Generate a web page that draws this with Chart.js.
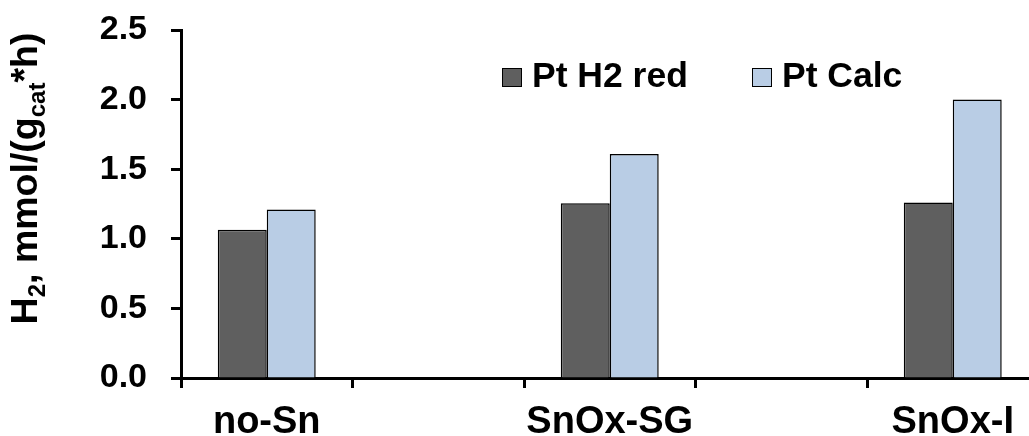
<!DOCTYPE html>
<html><head><meta charset="utf-8">
<script src="https://cdn.jsdelivr.net/npm/chart.js@4"></script>
<style>
html,body{margin:0;padding:0;background:#fff;overflow:hidden;width:1029px;height:436px}
#wrap{position:relative;width:1230px;height:436px}
</style>
</head><body><div id="wrap"><canvas id="c"></canvas></div>
<script>
// ---- data ----
const categories = ['no-Sn', 'SnOx-SG', 'SnOx-I'];
const seriesNames = ['Pt H2 red', 'Pt Calc'];
const ptH2Red = [1.065, 1.255, 1.26];
const ptCalc = [1.21, 1.61, 2.0];
const yTicks = [0.0, 0.5, 1.0, 1.5, 2.0, 2.5];

// each category is followed by an empty slot of equal width
const labels = [];
const d1 = [], d2 = [];
categories.forEach((c, i) => {
  labels.push(c, '');
  d1.push(ptH2Red[i], null);
  d2.push(ptCalc[i], null);
});

const FONT = '"Liberation Sans", Arial, sans-serif';

const overlay = {
  id: 'overlay',
  afterDraw(chart) {
    const ctx = chart.ctx;
    ctx.save();
    // legend (drawn inside plot area)
    const legendX = [502, 752];
    const legendY = 77.5;
    ctx.font = 'bold 35.5px ' + FONT;
    ctx.textBaseline = 'middle';
    ctx.textAlign = 'left';
    chart.data.datasets.forEach((ds, i) => {
      const x = legendX[i];
      ctx.fillStyle = ds.backgroundColor;
      ctx.fillRect(x, legendY - 9.5, 20, 19);
      ctx.strokeStyle = '#000';
      ctx.lineWidth = 1;
      ctx.strokeRect(x + 0.5, legendY - 9, 19, 18);
      ctx.fillStyle = '#000';
      ctx.fillText(ds.label, x + 30, legendY);
    });
    // y axis title with subscripts
    const F = 37.5, S = 24;
    const parts = [
      ['H', F, 0], ['2', S, 8], [', mmol/(g', F, 0], ['cat', S, 8], ['*h)', F, 0]
    ];
    let total = 0;
    parts.forEach(p => { ctx.font = 'bold ' + p[1] + 'px ' + FONT; p.push(ctx.measureText(p[0]).width); total += p[3]; });
    ctx.translate(37, 178.5);
    ctx.rotate(-Math.PI / 2);
    ctx.textBaseline = 'alphabetic';
    ctx.fillStyle = '#000';
    let u = -total / 2;
    parts.forEach(p => {
      ctx.font = 'bold ' + p[1] + 'px ' + FONT;
      ctx.fillText(p[0], u, p[2]);
      u += p[3];
    });
    ctx.restore();
  }
};

new Chart(document.getElementById('c'), {
  type: 'bar',
  data: {
    labels: labels,
    datasets: [
      { label: seriesNames[0], data: d1, backgroundColor: '#5f5f5f', borderColor: '#000', borderWidth: 1.5 },
      { label: seriesNames[1], data: d2, backgroundColor: '#b9cde5', borderColor: '#000', borderWidth: 1.5 }
    ]
  },
  options: {
    responsive: true,
    maintainAspectRatio: false,
    animation: false,
    layout: { padding: { left: 0, top: 30, right: 20, bottom: 0 } },
    datasets: { bar: { categoryPercentage: 0.571, barPercentage: 1.0 } },
    plugins: { legend: { display: false }, tooltip: { enabled: false } },
    scales: {
      x: {
        z: 1,
        grid: { display: true, drawOnChartArea: false, drawTicks: true, tickLength: 10, tickWidth: 3, tickColor: '#000', offset: true },
        border: { display: true, color: '#000', width: 3 },
        ticks: { color: '#000', font: { family: FONT, size: 38, weight: 'bold' }, padding: 12, maxRotation: 0, autoSkip: false },
        afterFit(s) { s.height = 58; s.paddingLeft = 0; s.paddingRight = 0; }
      },
      y: {
        z: 1,
        min: 0, max: 2.5,
        grid: { display: true, drawOnChartArea: false, drawTicks: true, tickLength: 10, tickWidth: 3, tickColor: '#000' },
        border: { display: true, color: '#000', width: 3 },
        ticks: { color: '#000', font: { family: FONT, size: 34, weight: 'bold' }, padding: 24, callback: v => Number(v).toFixed(1) },
        afterBuildTicks(s) { s.ticks = yTicks.map(v => ({ value: v })); },
        afterFit(s) { s.width = 181; s.paddingTop = 0; s.paddingBottom = 0; }
      }
    }
  },
  plugins: [overlay]
});
</script>
</body></html>
